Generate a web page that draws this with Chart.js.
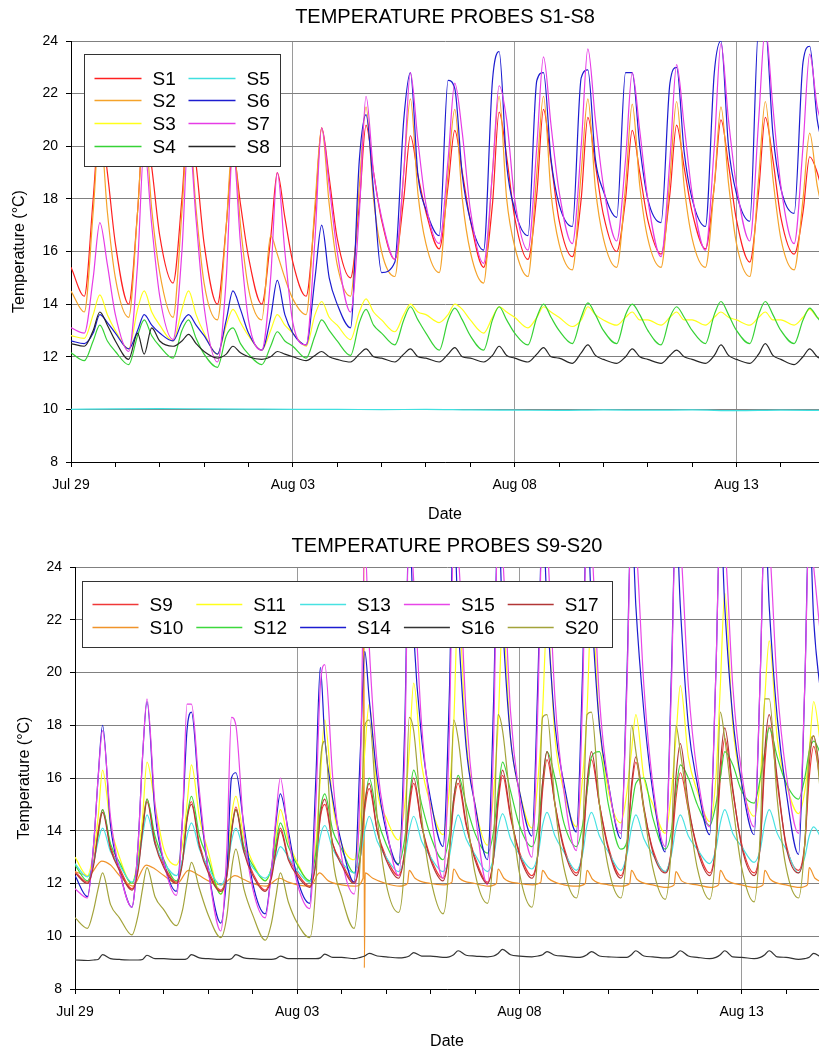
<!DOCTYPE html>
<html>
<head>
<meta charset="utf-8">
<title>Temperature probes</title>
<script src="https://cdn.jsdelivr.net/npm/chart.js@4.4.1/dist/chart.umd.min.js"></script>
<style>
  html, body { margin: 0; padding: 0; background: #fff; overflow: hidden; }
  canvas { position: absolute; left: 0; }
  #topChart { top: 0; }
  #bottomChart { top: 526px; }
</style>
</head>
<body>
<canvas id="topChart" width="819" height="525"></canvas>
<canvas id="bottomChart" width="819" height="526"></canvas>
<script>
// x axis: days since Jul 29
const dayTicks = [0, 1, 2, 3, 4, 5, 6, 7, 8, 9, 10, 11, 12, 13, 14, 15, 16];
const majorDays = [0, 5, 10, 15];
const dateLabels = ["Jul 29", "Aug 03", "Aug 08", "Aug 13"];

// sample times (days)
const tTop = [
  0, 0.3, 0.5, 0.65, 0.82, 1, 1.3, 1.5, 1.65, 1.82, 2, 2.3, 2.5, 2.65, 2.82,
  3, 3.3, 3.5, 3.65, 3.82, 4, 4.3, 4.5, 4.65, 4.82, 5, 5.3, 5.5, 5.65, 5.82,
  6, 6.3, 6.5, 6.65, 6.82, 7, 7.3, 7.5, 7.65, 7.82, 8, 8.3, 8.5, 8.65, 8.82,
  9, 9.3, 9.5, 9.65, 9.82, 10, 10.3, 10.5, 10.65, 10.82, 11, 11.3, 11.5, 11.65, 11.82,
  12, 12.3, 12.5, 12.65, 12.82, 13, 13.3, 13.5, 13.65, 13.82, 14, 14.3, 14.5, 14.65, 14.82,
  15, 15.3, 15.5, 15.65, 15.82, 16, 16.3, 16.5, 16.65, 16.82, 17
];
const tDaily = [0, 1, 2, 3, 4, 5, 6, 7, 8, 9, 10, 11, 12, 13, 14, 15, 16, 17];

const s1 = [
  15.4, 14.3, 18.0, 21.0, 19.0, 16.3, 14.0, 17.5, 21.0, 19.2, 16.6, 14.8, 18.0, 21.2, 19.3,
  16.3, 14.0, 17.0, 19.8, 17.8, 15.8, 14.0, 16.5, 19.0, 17.3, 15.6, 14.3, 17.5, 20.7, 18.8,
  16.5, 15.0, 17.8, 20.8, 19.0, 17.2, 15.7, 18.0, 20.4, 18.9, 17.5, 16.1, 18.5, 20.6, 19.0,
  17.2, 15.4, 17.8, 21.3, 19.6, 17.3, 15.7, 18.2, 21.4, 19.4, 17.2, 15.8, 18.0, 21.1, 19.3,
  17.4, 16.0, 18.0, 20.6, 19.0, 17.2, 15.9, 18.2, 20.8, 19.2, 17.5, 16.1, 18.5, 21.0, 19.3,
  17.2, 15.6, 18.3, 21.1, 19.5, 17.3, 15.9, 17.5, 19.6, 19.0, 17.8
];
const s2 = [
  14.5, 13.7, 17.5, 20.8, 17.5, 15.0, 13.5, 17.5, 21.0, 17.6, 15.2, 13.5, 17.5, 21.0, 17.6,
  14.8, 13.4, 17.0, 20.3, 17.0, 14.6, 13.4, 16.6, 15.9, 15.0, 14.2, 13.6, 17.8, 20.7, 17.8,
  15.5, 14.3, 18.5, 21.5, 18.0, 16.0, 15.05, 19.0, 21.8, 18.2, 16.3, 15.2, 19.0, 21.4, 18.0,
  16.0, 14.8, 19.0, 21.9, 18.0, 16.2, 15.05, 19.0, 21.9, 18.2, 16.3, 15.3, 19.0, 21.8, 18.4,
  16.5, 15.4, 18.5, 21.6, 18.5, 16.5, 15.4, 18.8, 21.7, 18.5, 16.5, 15.4, 18.5, 21.5, 18.6,
  16.3, 15.05, 18.8, 21.7, 18.8, 16.5, 15.3, 18.0, 20.5, 18.5, 17.2
];
const s3 = [
  12.8, 12.7, 13.6, 14.35, 13.6, 13.0, 12.3, 13.8, 14.5, 13.7, 13.2, 12.6, 13.8, 14.5, 13.6,
  12.9, 12.1, 13.2, 13.8, 13.3, 12.8, 12.25, 13.0, 13.6, 13.2, 12.9, 12.4, 13.6, 14.1, 13.5,
  13.2, 12.65, 13.7, 14.2, 13.7, 13.4, 12.95, 13.6, 14.0, 13.7, 13.6, 13.3, 13.6, 14.0, 13.8,
  13.4, 12.9, 13.5, 13.9, 13.7, 13.5, 13.1, 13.5, 13.9, 13.7, 13.5, 13.15, 13.4, 13.9, 13.6,
  13.4, 13.2, 13.5, 13.7, 13.4, 13.4, 13.2, 13.5, 13.7, 13.4, 13.4, 13.2, 13.5, 13.7, 13.5,
  13.4, 13.2, 13.5, 13.7, 13.4, 13.4, 13.2, 13.5, 13.8, 13.5, 13.4
];
const s4 = [
  12.15, 11.85, 12.6, 13.2, 12.6, 12.2, 11.7, 12.8, 13.4, 12.8, 12.4, 11.95, 13.0, 13.4, 12.7,
  12.1, 11.6, 12.8, 13.1, 12.5, 12.1, 11.7, 12.4, 12.95, 12.6, 12.4, 11.95, 12.8, 13.4, 13.0,
  12.6, 12.05, 13.3, 13.8, 13.2, 12.9, 12.45, 13.4, 13.9, 13.4, 12.9, 12.25, 13.4, 13.85, 13.4,
  12.8, 12.25, 13.4, 13.9, 13.4, 12.9, 12.45, 13.5, 14.0, 13.5, 13.0, 12.5, 13.5, 14.05, 13.6,
  13.0, 12.5, 13.6, 14.0, 13.6, 13.0, 12.45, 13.5, 13.9, 13.5, 13.0, 12.5, 13.6, 14.1, 13.6,
  13.0, 12.5, 13.6, 14.1, 13.6, 13.0, 12.5, 13.4, 13.85, 13.5, 13.1
];
const s5 = [10.0, 10.02, 10.03, 10.02, 10.01, 10.0, 10.0, 9.99, 10.0, 9.98, 9.97, 9.96, 9.98, 9.97, 9.98, 9.95, 9.97, 9.96];
const s6 = [
  12.6, 12.5, 12.9, 13.6, 13.3, 12.9, 12.3, 13.0, 13.6, 13.2, 12.9, 12.6, 13.3, 13.6, 13.2,
  12.8, 12.1, 13.4, 14.5, 13.8, 12.9, 12.25, 13.5, 14.9, 13.6, 12.9, 12.45, 15.0, 17.0, 15.0,
  14.0, 13.1, 19.5, 21.2, 18.3, 15.2, 15.6, 21.0, 22.8, 18.9, 17.6, 16.6, 22.5, 22.2, 18.9,
  17.2, 16.05, 22.5, 23.6, 19.3, 17.6, 16.6, 22.5, 22.8, 19.5, 17.8, 16.95, 22.6, 22.9, 19.5,
  18.3, 17.3, 22.8, 22.8, 20.0, 18.0, 17.1, 22.4, 23.0, 19.8, 18.0, 16.95, 22.8, 24.0, 20.0,
  18.2, 17.15, 24.5, 24.5, 20.5, 18.4, 17.45, 23.2, 23.8, 21.0, 19.8
];
const s7 = [
  13.1, 12.9, 15.0, 17.1, 15.5, 13.6, 12.2, 15.5, 20.0, 17.0, 14.3, 12.65, 16.0, 20.5, 17.2,
  13.9, 11.8, 15.0, 20.0, 16.3, 13.4, 12.25, 15.0, 19.0, 16.0, 13.3, 12.45, 16.5, 20.7, 18.5,
  16.0, 13.7, 17.5, 21.9, 19.0, 17.3, 15.7, 19.0, 22.8, 20.2, 17.8, 16.3, 19.5, 22.4, 20.5,
  17.6, 15.55, 19.0, 22.3, 21.0, 18.0, 16.05, 20.0, 23.4, 20.8, 18.3, 16.3, 20.0, 23.7, 21.0,
  18.5, 16.4, 19.5, 22.8, 20.6, 18.0, 15.8, 19.5, 23.1, 20.8, 18.2, 16.05, 20.0, 23.9, 21.0,
  18.5, 16.4, 21.0, 24.5, 21.5, 18.5, 16.3, 20.0, 23.5, 21.5, 20.5
];
const s8 = [
  12.5, 12.4, 13.0, 13.7, 13.2, 12.6, 11.9, 12.9, 12.1, 13.1, 12.6, 12.4, 12.6, 12.85, 12.5,
  12.2, 11.95, 12.1, 12.4, 12.15, 12.0, 11.9, 12.0, 12.2, 12.1, 12.0, 11.85, 12.05, 12.2, 12.0,
  11.9, 11.8, 12.1, 12.3, 12.0, 11.95, 11.8, 12.1, 12.3, 12.0, 11.95, 11.8, 12.1, 12.35, 12.0,
  11.95, 11.8, 12.05, 12.4, 12.05, 11.95, 11.8, 12.1, 12.35, 12.0, 11.95, 11.75, 12.15, 12.45, 12.05,
  11.9, 11.75, 12.0, 12.3, 12.0, 11.9, 11.75, 12.05, 12.25, 12.0, 11.9, 11.75, 12.05, 12.45, 12.05,
  11.9, 11.75, 12.1, 12.5, 12.05, 11.9, 11.7, 12.0, 12.3, 12.0, 11.85
];

// sample times (days)
const tBot = [
  0, 0.28, 0.42, 0.52, 0.62, 0.8, 1, 1.28, 1.42, 1.52, 1.62, 1.8,
  2, 2.28, 2.42, 2.52, 2.62, 2.8, 3, 3.28, 3.42, 3.52, 3.62, 3.8,
  4, 4.28, 4.42, 4.52, 4.62, 4.8, 5, 5.28, 5.42, 5.52, 5.62, 5.8,
  6, 6.28, 6.42, 6.52, 6.62, 6.8, 7, 7.28, 7.42, 7.52, 7.62, 7.8,
  8, 8.28, 8.42, 8.52, 8.62, 8.8, 9, 9.28, 9.42, 9.52, 9.62, 9.8,
  10, 10.28, 10.42, 10.52, 10.62, 10.8, 11, 11.28, 11.42, 11.52, 11.62, 11.8,
  12, 12.28, 12.42, 12.52, 12.62, 12.8, 13, 13.28, 13.42, 13.52, 13.62, 13.8,
  14, 14.28, 14.42, 14.52, 14.62, 14.8, 15, 15.28, 15.42, 15.52, 15.62, 15.8,
  16, 16.28, 16.42, 16.52, 16.62, 16.8, 17
];
const tS10 = [
  0, 0.3, 0.6, 0.8, 1, 1.3, 1.6, 1.8, 2, 2.3, 2.55, 2.8, 3, 3.3, 3.6, 3.8,
  4, 4.3, 4.6, 4.8, 5, 5.3, 5.5, 5.7, 6, 6.3, 6.48, 6.5, 6.51, 6.53, 6.7,
  7, 7.3, 7.48, 7.52, 7.65, 8, 8.3, 8.48, 8.52, 8.65, 9, 9.3, 9.48, 9.52, 9.65,
  10, 10.3, 10.48, 10.52, 10.65, 11, 11.3, 11.48, 11.52, 11.65, 12, 12.3, 12.48, 12.52, 12.65,
  13, 13.3, 13.48, 13.52, 13.65, 14, 14.3, 14.48, 14.52, 14.65, 15, 15.3, 15.48, 15.52, 15.65,
  16, 16.3, 16.48, 16.52, 16.65, 17
];

const s9 = [
  12.45, 12.05, 12.8, 14.0, 14.8, 13.4, 12.6, 11.8, 12.6, 14.2, 15.2, 13.6,
  12.7, 12.05, 12.9, 14.5, 15.1, 13.5, 12.5, 11.75, 12.4, 14.0, 14.9, 13.3,
  12.4, 11.75, 12.3, 13.3, 14.1, 13.0, 12.4, 11.9, 12.8, 14.5, 15.0, 13.5,
  12.8, 12.05, 13.0, 14.8, 15.6, 14.0, 13.0, 12.3, 13.2, 14.8, 15.8, 14.2,
  13.0, 12.2, 13.2, 15.0, 15.8, 14.2, 13.0, 12.05, 13.0, 15.0, 16.1, 14.5,
  13.2, 12.3, 13.2, 15.5, 16.7, 15.0, 13.4, 12.4, 13.3, 15.5, 16.7, 15.0,
  13.4, 12.3, 13.3, 15.5, 16.6, 14.8, 13.3, 12.45, 13.3, 15.2, 16.2, 14.8,
  13.4, 12.4, 13.5, 16.0, 17.5, 15.5, 13.5, 12.4, 13.5, 16.5, 18.0, 15.8,
  13.5, 12.5, 13.5, 16.0, 17.2, 15.5, 14.0
];
const s10 = [
  12.45, 12.3, 12.85, 12.7, 12.3, 11.9, 12.7, 12.55, 12.3, 12.0, 12.5, 12.3, 12.1, 11.95, 12.3, 12.15,
  12.0, 11.9, 12.2, 12.05, 11.95, 11.9, 12.4, 12.1, 11.95, 11.9, 12.2, 25.0, 8.8, 12.4, 12.2,
  12.0, 11.9, 12.0, 12.5, 12.2, 12.0, 11.95, 12.05, 12.55, 12.2, 12.0, 11.9, 12.0, 12.55, 12.2,
  12.0, 11.95, 12.05, 12.5, 12.2, 11.95, 11.9, 12.0, 12.5, 12.15, 11.95, 11.9, 12.0, 12.5, 12.15,
  11.95, 11.85, 11.95, 12.45, 12.1, 11.95, 11.85, 11.95, 12.5, 12.15, 11.95, 11.85, 11.95, 12.5, 12.15,
  11.95, 11.85, 11.95, 12.6, 12.2, 12.0
];
const s11 = [
  13.0, 12.3, 13.2, 14.5, 16.3, 14.2, 13.0, 12.0, 13.0, 14.5, 16.6, 15.0,
  13.3, 12.7, 13.5, 15.0, 16.5, 14.5, 13.2, 11.6, 12.5, 14.5, 15.3, 13.7,
  12.8, 12.1, 12.6, 13.8, 14.8, 13.6, 12.8, 12.05, 13.5, 16.0, 18.2, 15.0,
  13.5, 12.9, 14.5, 17.0, 18.8, 15.5, 14.5, 13.65, 15.0, 17.0, 19.6, 16.5,
  15.0, 13.85, 15.5, 18.0, 22.5, 17.5, 15.0, 13.45, 15.5, 18.0, 22.0, 17.5,
  15.5, 14.1, 16.0, 18.5, 22.0, 17.5, 15.5, 14.15, 16.0, 18.5, 22.5, 18.0,
  15.5, 14.3, 15.5, 17.0, 18.4, 16.0, 15.0, 13.9, 15.5, 17.5, 19.5, 16.8,
  15.5, 14.35, 16.0, 19.5, 23.0, 18.0, 15.8, 14.55, 16.0, 19.0, 21.2, 17.5,
  15.8, 14.65, 15.5, 17.0, 18.9, 17.0, 16.0
];
const s12 = [
  12.7, 12.1, 12.8, 13.8, 14.8, 13.5, 12.8, 12.0, 12.8, 14.0, 15.2, 13.8,
  12.9, 12.1, 12.9, 14.5, 15.3, 13.8, 12.9, 11.6, 12.5, 14.0, 14.8, 13.4,
  12.7, 12.1, 12.6, 13.5, 14.3, 13.4, 12.7, 12.1, 13.2, 14.8, 15.4, 14.0,
  13.3, 12.4, 13.5, 15.0, 16.0, 14.5, 13.5, 12.75, 13.7, 15.2, 16.3, 15.0,
  13.8, 12.9, 13.8, 15.2, 16.1, 15.0, 13.9, 13.15, 14.0, 15.5, 16.6, 15.5,
  14.2, 13.4, 14.2, 15.8, 17.0, 16.0, 14.3, 13.4, 14.2, 15.5, 16.8, 17.0,
  15.0, 13.3, 13.6, 14.8, 15.8, 16.0, 14.5, 13.3, 14.0, 15.5, 16.5, 16.0,
  15.0, 14.2, 15.0, 16.0, 17.0, 16.5, 15.5, 15.05, 16.0, 17.0, 17.9, 16.8,
  15.8, 15.2, 16.0, 17.0, 17.4, 16.8, 16.0
];
const s13 = [
  12.75, 12.25, 12.8, 13.6, 14.1, 13.2, 12.7, 12.05, 12.7, 13.8, 14.6, 13.5,
  12.8, 12.3, 12.9, 13.8, 14.3, 13.3, 12.6, 11.95, 12.5, 13.6, 14.1, 13.2,
  12.6, 12.2, 12.5, 13.0, 13.4, 13.0, 12.5, 12.05, 12.8, 13.8, 14.2, 13.3,
  12.8, 12.4, 13.0, 14.0, 14.55, 13.6, 13.0, 12.45, 13.0, 14.0, 14.55, 13.6,
  13.0, 12.45, 13.0, 14.0, 14.6, 13.7, 13.1, 12.45, 13.0, 14.1, 14.65, 13.7,
  13.1, 12.55, 13.1, 14.2, 14.7, 13.8, 13.2, 12.5, 13.1, 14.2, 14.7, 13.8,
  13.2, 12.5, 13.1, 14.1, 14.6, 13.7, 13.1, 12.45, 13.1, 14.1, 14.6, 13.8,
  13.3, 12.75, 13.3, 14.3, 14.8, 13.9, 13.4, 12.8, 13.3, 14.3, 14.8, 13.9,
  13.3, 12.4, 13.0, 13.8, 14.15, 13.7, 13.4
];
const s14 = [
  12.3, 11.5, 13.5, 16.0, 18.0, 14.2, 12.5, 11.1, 13.5, 16.8, 18.9, 14.7,
  12.8, 11.7, 14.5, 17.8, 18.5, 15.2, 12.5, 10.5, 12.5, 16.0, 16.2, 14.2,
  12.0, 10.85, 12.5, 14.3, 15.4, 14.0, 12.2, 11.25, 16.0, 20.2, 17.5, 15.2,
  13.5, 12.05, 17.0, 20.8, 19.0, 16.0, 14.0, 12.7, 18.0, 26.0, 21.5, 17.5,
  15.2, 13.4, 19.0, 26.0, 22.0, 17.2, 15.0, 12.9, 19.0, 26.0, 22.0, 17.5,
  15.5, 13.8, 20.0, 26.0, 22.5, 18.0, 15.8, 13.95, 20.0, 26.0, 22.5, 18.0,
  15.8, 13.7, 20.0, 26.0, 22.5, 18.5, 15.5, 13.2, 20.0, 26.0, 22.5, 18.0,
  15.8, 13.85, 20.0, 26.0, 22.5, 18.3, 15.8, 13.85, 20.0, 26.0, 22.5, 18.3,
  15.5, 13.1, 19.5, 26.0, 22.0, 19.0, 17.0
];
const s15 = [
  11.8, 11.45, 13.5, 16.0, 17.8, 14.5, 12.5, 11.1, 13.5, 16.8, 19.0, 15.0,
  12.8, 11.55, 14.5, 18.8, 18.8, 15.5, 12.5, 10.2, 13.5, 18.3, 18.0, 14.0,
  11.8, 10.7, 12.5, 14.5, 16.0, 13.8, 12.0, 11.05, 15.0, 19.5, 20.3, 16.0,
  13.0, 11.6, 16.0, 25.0, 21.0, 16.5, 14.2, 12.3, 17.0, 26.0, 23.5, 18.0,
  14.8, 12.2, 17.5, 25.0, 24.5, 18.5, 14.8, 11.95, 17.5, 26.0, 24.5, 18.5,
  15.3, 13.0, 19.0, 26.0, 25.0, 19.0, 15.5, 13.25, 19.0, 26.0, 25.0, 19.0,
  15.8, 13.9, 19.5, 26.0, 25.0, 19.5, 15.8, 13.4, 19.5, 26.0, 25.0, 19.5,
  16.2, 14.15, 20.0, 26.0, 25.0, 19.5, 16.2, 14.15, 20.0, 26.0, 25.0, 19.5,
  16.2, 13.9, 19.5, 25.5, 24.0, 21.0, 18.5
];
const s16 = [
  9.1, 9.08, 9.1, 9.12, 9.3, 9.15, 9.12, 9.1, 9.1, 9.12, 9.28, 9.15,
  9.15, 9.12, 9.12, 9.15, 9.3, 9.18, 9.15, 9.12, 9.12, 9.15, 9.3, 9.18,
  9.15, 9.12, 9.12, 9.15, 9.25, 9.15, 9.15, 9.15, 9.15, 9.18, 9.32, 9.2,
  9.2, 9.15, 9.2, 9.25, 9.35, 9.25, 9.22, 9.18, 9.2, 9.25, 9.38, 9.25,
  9.25, 9.2, 9.22, 9.3, 9.45, 9.28, 9.25, 9.22, 9.25, 9.35, 9.5, 9.3,
  9.25, 9.22, 9.25, 9.3, 9.42, 9.28, 9.25, 9.2, 9.22, 9.3, 9.42, 9.25,
  9.22, 9.2, 9.2, 9.3, 9.45, 9.25, 9.22, 9.18, 9.2, 9.3, 9.45, 9.25,
  9.2, 9.15, 9.2, 9.3, 9.45, 9.22, 9.2, 9.15, 9.2, 9.3, 9.45, 9.22,
  9.2, 9.12, 9.15, 9.2, 9.35, 9.2, 9.15
];
const s17 = [
  12.4, 12.0, 12.7, 13.9, 14.7, 13.3, 12.5, 11.75, 12.5, 14.0, 15.1, 13.5,
  12.6, 12.0, 12.8, 14.4, 15.0, 13.4, 12.4, 11.7, 12.3, 13.9, 14.8, 13.2,
  12.3, 11.7, 12.2, 13.2, 14.0, 12.9, 12.3, 11.85, 12.8, 14.6, 15.2, 13.5,
  12.7, 12.0, 13.0, 15.0, 15.8, 14.0, 12.9, 12.2, 13.2, 15.0, 16.0, 14.2,
  12.9, 12.1, 13.2, 15.2, 16.0, 14.3, 12.9, 12.0, 13.0, 15.2, 16.3, 14.6,
  13.1, 12.2, 13.2, 15.8, 17.0, 15.0, 13.3, 12.3, 13.3, 15.8, 17.0, 15.0,
  13.3, 12.2, 13.3, 15.7, 16.8, 14.9, 13.2, 12.4, 13.3, 16.0, 17.3, 15.0,
  13.3, 12.3, 13.5, 16.5, 17.9, 15.6, 13.4, 12.3, 13.5, 17.0, 18.4, 16.0,
  13.4, 12.4, 13.5, 16.5, 17.6, 15.7, 14.0
];
const s20 = [
  10.7, 10.3, 11.0, 11.8, 12.4, 11.2, 10.7, 10.05, 10.8, 11.8, 12.6, 11.5,
  11.0, 10.4, 11.0, 12.0, 12.8, 11.8, 10.8, 9.95, 10.8, 12.5, 13.3, 11.8,
  10.8, 9.85, 10.5, 11.5, 12.4, 11.3, 10.5, 9.95, 12.0, 16.5, 17.4, 13.0,
  11.5, 10.3, 13.0, 18.0, 18.2, 14.5, 12.0, 10.9, 13.0, 18.3, 17.8, 14.5,
  12.2, 10.85, 13.0, 18.2, 17.5, 14.8, 12.4, 11.25, 13.5, 18.4, 17.8, 15.0,
  12.4, 11.1, 13.5, 18.3, 18.4, 15.0, 12.6, 11.45, 13.5, 18.4, 18.5, 15.0,
  12.6, 11.45, 13.5, 18.0, 17.0, 14.8, 12.6, 11.4, 13.5, 18.0, 17.0, 14.8,
  12.6, 11.4, 13.5, 18.5, 17.5, 15.0, 12.6, 11.3, 14.0, 19.0, 19.0, 15.2,
  12.6, 11.45, 13.5, 17.0, 17.6, 15.0, 12.8
];

const topSeries = [
  { label: "S1", times: tTop, values: s1, color: "#ff2020" },
  { label: "S2", times: tTop, values: s2, color: "#f5a32a" },
  { label: "S3", times: tTop, values: s3, color: "#ffff1a" },
  { label: "S4", times: tTop, values: s4, color: "#36d236" },
  { label: "S5", times: tDaily, values: s5, color: "#40e0e0" },
  { label: "S6", times: tTop, values: s6, color: "#1c1cd0" },
  { label: "S7", times: tTop, values: s7, color: "#e63ce6" },
  { label: "S8", times: tTop, values: s8, color: "#262626" }
];
const bottomSeries = [
  { label: "S9", times: tBot, values: s9, color: "#f03838" },
  { label: "S10", times: tS10, values: s10, color: "#f0932a" },
  { label: "S11", times: tBot, values: s11, color: "#ffff1a" },
  { label: "S12", times: tBot, values: s12, color: "#3cd83c" },
  { label: "S13", times: tBot, values: s13, color: "#48e2e2" },
  { label: "S14", times: tBot, values: s14, color: "#1c1cd0" },
  { label: "S15", times: tBot, values: s15, color: "#e846e8" },
  { label: "S16", times: tBot, values: s16, color: "#333333" },
  { label: "S17", times: tBot, values: s17, color: "#b23636" },
  { label: "S20", times: tBot, values: s20, color: "#a3a33a" }
];

const FONT = '"Liberation Sans", Arial, sans-serif';

// boxed legend drawn inside the plot, on top of the lines
const boxLegend = {
  id: "boxLegend",
  afterDatasetsDraw(chart, args, o) {
    const { ctx, chartArea } = chart;
    const x0 = Math.round(chartArea.left + o.left) + 0.5;
    const y0 = Math.round(chartArea.top + o.top) + 0.5;
    ctx.save();
    ctx.fillStyle = "#fff";
    ctx.fillRect(x0, y0, o.width, o.height);
    ctx.strokeStyle = "#333";
    ctx.lineWidth = 1;
    ctx.strokeRect(x0, y0, o.width, o.height);
    ctx.font = "19px " + FONT;
    ctx.textBaseline = "middle";
    ctx.textAlign = "left";
    chart.data.datasets.forEach((ds, i) => {
      const col = Math.floor(i / o.rows);
      const row = i % o.rows;
      const lx = x0 + o.padX + col * o.colWidth;
      const ly = Math.round(y0 + o.padY + row * o.rowHeight) + 0.5;
      ctx.strokeStyle = ds.borderColor;
      ctx.lineWidth = 1.4;
      ctx.beginPath();
      ctx.moveTo(lx, ly);
      ctx.lineTo(lx + o.lineLen, ly);
      ctx.stroke();
      ctx.fillStyle = "#000";
      ctx.fillText(ds.label, lx + o.lineLen + o.gap, ly + 1);
    });
    ctx.restore();
  }
};

const makeChart = (id, cfg) => {
  const datasets = cfg.series.map((s, i) => ({
    label: s.label,
    data: s.values.map((v, j) => ({ x: s.times[j], y: v })),
    borderColor: s.color,
    backgroundColor: s.color,
    borderWidth: 1.2,
    pointRadius: 0,
    fill: false,
    cubicInterpolationMode: "monotone",
    order: -i
  }));

  return new Chart(document.getElementById(id), {
    type: "line",
    data: { datasets: datasets },
    options: {
      responsive: false,
      animation: false,
      devicePixelRatio: 1,
      events: [],
      layout: { padding: 0 },
      plugins: {
        legend: { display: false },
        tooltip: { enabled: false },
        title: {
          display: true,
          text: cfg.title,
          fullSize: false,
          color: "#000",
          font: { family: FONT, size: 20, weight: "normal" },
          padding: cfg.titlePad
        },
        boxLegend: cfg.legend
      },
      scales: {
        x: {
          type: "linear",
          min: 0,
          max: cfg.xMax,
          afterBuildTicks: scale => {
            scale.ticks = dayTicks.map(v => ({ value: v }));
          },
          afterFit: scale => {
            scale.height = 63;
          },
          ticks: {
            autoSkip: false,
            maxRotation: 0,
            padding: 10,
            color: "#000",
            font: { family: FONT, size: 14 },
            callback: v => {
              const k = majorDays.indexOf(v);
              return k < 0 ? "" : dateLabels[k];
            }
          },
          grid: {
            color: c => (c.tick && majorDays.includes(c.tick.value) ? "#9a9a9a" : "rgba(0,0,0,0)"),
            lineWidth: 1,
            tickColor: "#000",
            tickLength: 5
          },
          border: { color: "#000", width: 1 },
          title: {
            display: true,
            text: "Date",
            color: "#000",
            font: { family: FONT, size: 16 },
            padding: { top: 0, bottom: 1 }
          }
        },
        y: {
          min: 8,
          max: 24,
          afterFit: scale => {
            scale.width = cfg.yWidth;
          },
          ticks: {
            stepSize: 2,
            padding: 8,
            color: "#000",
            font: { family: FONT, size: 14 }
          },
          grid: { color: "#808080", lineWidth: 1, tickColor: "#000", tickLength: 5 },
          border: { color: "#000", width: 1 },
          title: {
            display: true,
            text: "Temperature (\u00B0C)",
            color: "#000",
            font: { family: FONT, size: 16 },
            padding: { top: cfg.yTitlePad, bottom: 0 }
          }
        }
      }
    },
    plugins: [boxLegend]
  });
};

makeChart("topChart", {
  title: "TEMPERATURE PROBES S1-S8",
  titlePad: { top: 5, bottom: 12 },
  series: topSeries,
  xMax: 16.86,
  yWidth: 71,
  yTitlePad: 10,
  legend: { left: 13, top: 13, width: 196, height: 112, rows: 4, padX: 10, padY: 23, rowHeight: 22.7, colWidth: 94, lineLen: 47, gap: 11 }
});

makeChart("bottomChart", {
  title: "TEMPERATURE PROBES S9-S20",
  titlePad: { top: 8, bottom: 9 },
  series: bottomSeries,
  xMax: 16.74,
  yWidth: 75,
  yTitlePad: 15,
  legend: { left: 7, top: 14, width: 530, height: 66, rows: 2, padX: 10, padY: 22, rowHeight: 23, colWidth: 103.8, lineLen: 46, gap: 11 }
});
</script>
</body>
</html>
